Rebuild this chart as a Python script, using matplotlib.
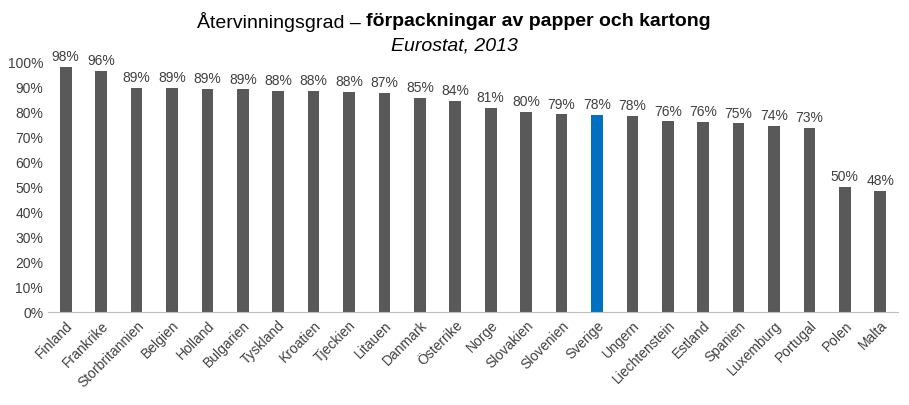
import matplotlib
matplotlib.use("Agg")
import matplotlib.pyplot as plt
from matplotlib.ticker import FuncFormatter

countries = ["Finland","Frankrike","Storbritannien","Belgien","Holland","Bulgarien","Tyskland","Kroatien",
             "Tjeckien","Litauen","Danmark","Österrike","Norge","Slovakien","Slovenien","Sverige","Ungern",
             "Liechtenstein","Estland","Spanien","Luxemburg","Portugal","Polen","Malta"]
values = [97.6,96.2,89.3,89.2,88.8,88.7,88.1,88.0,87.7,87.3,85.3,84.2,81.3,79.8,78.7,78.4,78.2,
          75.9,75.6,75.1,74.3,73.4,50.0,48.4]
labels = ["98%","96%","89%","89%","89%","89%","88%","88%","88%","87%","85%","84%","81%","80%","79%",
          "78%","78%","76%","76%","75%","74%","73%","50%","48%"]
highlight = "Sverige"

plt.rcParams["font.family"] = "Liberation Sans"
fig = plt.figure(figsize=(9.09, 4.06), dpi=100)
ax = fig.add_axes([48/909, 1-313/406, 850/909, 251/406])
colors = ["#0070C0" if c == highlight else "#595959" for c in countries]
x = range(len(countries))
ax.bar(x, values, width=0.33, color=colors)
for i, (v, l) in enumerate(zip(values, labels)):
    ax.text(i, v + 1.5, l, ha="center", va="bottom", fontsize=10, color="#404040")
ax.set_xlim(-0.5, len(countries) - 0.5)
ax.set_ylim(0, 100)
ax.set_yticks(range(0, 101, 10))
ax.yaxis.set_major_formatter(FuncFormatter(lambda v, p: f"{int(v)}%"))
ax.set_xticks(list(x))
ax.set_xticklabels(countries, rotation=45, ha="right", rotation_mode="anchor", fontsize=10, color="#404040")
ax.tick_params(axis="y", length=0, labelsize=10, labelcolor="#404040")
ax.tick_params(axis="x", length=0, pad=4)
for s in ["top", "right", "left"]:
    ax.spines[s].set_visible(False)
ax.spines["bottom"].set_color("#BFBFBF")

# title with mixed weight
r = fig.canvas.get_renderer()
t1 = fig.text(0, 0, "Återvinningsgrad – ", fontsize=14)
t2 = fig.text(0, 0, "förpackningar av papper och kartong", fontsize=14, fontweight="bold")
w1 = t1.get_window_extent(r).width
w2 = t2.get_window_extent(r).width
cx = 454
x0 = cx - (w1 + w2) / 2
yt = 1 - 22/406
t1.set_position((x0/909, yt)); t1.set_va("center")
t2.set_position(((x0 + w1)/909, yt)); t2.set_va("center")
fig.text(cx/909, 1 - 46/406, "Eurostat, 2013", fontsize=14, style="italic", ha="center", va="center")

fig.savefig("out.png", dpi=100)
